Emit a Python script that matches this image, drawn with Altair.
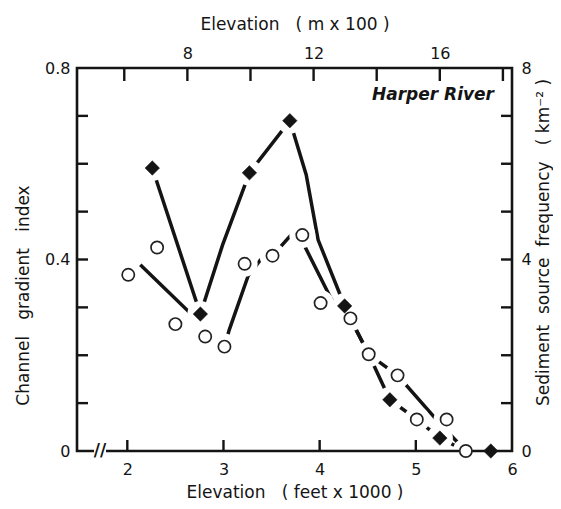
import altair as alt
import pandas as pd

# ---- data (elevation in feet x 1000, index 0-0.8) ----
diamond_elev = [2.26, 2.76, 3.27, 3.69, 4.26, 4.73, 5.25, 5.78]
diamond_val = [0.591, 0.286, 0.581, 0.690, 0.303, 0.107, 0.027, 0.0]

circle_elev = [2.01, 2.31, 2.50, 2.81, 3.01, 3.22, 3.51, 3.82, 4.01, 4.32, 4.51, 4.81, 5.01, 5.32, 5.52]
circle_val = [0.368, 0.425, 0.265, 0.239, 0.218, 0.391, 0.408, 0.451, 0.309, 0.277, 0.202, 0.158, 0.066, 0.066, 0.0]

# hand-drawn trend curves
curveA_elev = [2.26, 2.76, 2.99, 3.27, 3.69, 3.86, 3.984, 4.26, 4.32, 4.51, 4.73, 5.01, 5.25, 5.52, 5.78]
curveA_val = [0.591, 0.286, 0.430, 0.581, 0.690, 0.577, 0.441, 0.303, 0.277, 0.202, 0.107, 0.066, 0.027, 0.0, 0.0]

curveB_elev = [2.135, 2.675, 2.81, 3.01, 3.06, 3.257, 3.392, 3.51, 3.711, 3.815, 3.839, 4.127, 4.258, 4.317, 4.51, 4.81, 5.283, 5.52]
curveB_val = [0.389, 0.284, 0.239, 0.218, 0.253, 0.366, 0.401, 0.408, 0.453, 0.451, 0.430, 0.315, 0.303, 0.277, 0.202, 0.158, 0.050, 0.0]

# axes
bottom_ticks = [2, 3, 4, 5]
bottom_labels = [2, 3, 4, 5, 6]
left_ticks = [0.1, 0.2, 0.3, 0.4, 0.5, 0.6, 0.7]
left_labels = [0, 0.4, 0.8]
top_ticks = [6, 8, 10, 12, 14, 16, 18]
top_labels = [8, 12, 16]
right_ticks = [1, 2, 3, 4, 5, 6, 7]
right_labels = [0, 4, 8]

X0, X1 = 1.477, 6.0
FT_TO_M100 = 3.048

W, H = 435, 383
FONT = "DejaVu Sans"
INK = "#141414"
NB = "\u00a0"

xenc = alt.X(
    "elev:Q",
    scale=alt.Scale(domain=[X0, X1], nice=False, zero=False),
    axis=alt.Axis(
        orient="bottom", values=bottom_labels, format="d", ticks=False, domain=False, grid=False,
        labelPadding=10, labelFontSize=16, labelFont=FONT, labelColor=INK, labelFlush=False,
        title=f"Elevation{NB*3}({NB}feet{NB}x{NB}1000{NB})", titleFont=FONT, titleFontSize=17,
        titleFontWeight="normal", titleColor=INK, titleBaseline="alphabetic", titleY=46,
    ),
)
yenc = alt.Y(
    "val:Q",
    scale=alt.Scale(domain=[0, 0.8], nice=False),
    axis=alt.Axis(
        orient="left", values=left_labels, format=".1~f", ticks=False, domain=False, grid=False,
        labelPadding=7, labelFontSize=16, labelFont=FONT, labelColor=INK, labelFlush=False,
        title=f"Channel{NB*3}gradient{NB*3}index", titleFont=FONT, titleFontSize=17,
        titleFontWeight="normal", titleColor=INK, titleBaseline="alphabetic",
        titleAngle=270, titleX=-49, titleY=227, titleAlign="center",
    ),
)

curveA = pd.DataFrame({"elev": curveA_elev, "val": curveA_val})
curveB = pd.DataFrame({"elev": curveB_elev, "val": curveB_val})
dia = pd.DataFrame({"elev": diamond_elev, "val": diamond_val})
cir = pd.DataFrame({"elev": circle_elev, "val": circle_val})
allpts = pd.concat([dia, cir], ignore_index=True)
one = pd.DataFrame({"k": [0]})

lineA = alt.Chart(curveA).mark_line(strokeWidth=3.5, color=INK, strokeCap="butt").encode(x=xenc, y=yenc)
lineB = alt.Chart(curveB).mark_line(strokeWidth=3.5, color=INK, strokeCap="butt").encode(x=xenc, y=yenc)
halos = alt.Chart(allpts).mark_point(shape="circle", filled=True, fill="white", stroke="white",
                                     strokeWidth=0, fillOpacity=1, opacity=1, size=680).encode(
    x=xenc, y=yenc
)
frame = alt.Chart(one).mark_rect(fillOpacity=0, stroke=INK, strokeWidth=2.6).encode(
    x=alt.value(0), x2=alt.value(W), y=alt.value(0), y2=alt.value(H)
)
brk_gap = alt.Chart(one).mark_rule(color="white", strokeWidth=5).encode(
    x=alt.value(17), x2=alt.value(29), y=alt.value(H), y2=alt.value(H)
)
brk = alt.Chart(one).mark_text(text="//", font=FONT, fontSize=17, fontWeight="bold", color=INK,
                               align="center", baseline="middle").encode(
    x=alt.value(23), y=alt.value(H)
)
bt = alt.Chart(pd.DataFrame({"elev": bottom_ticks})).mark_rule(color=INK, strokeWidth=2.4).encode(
    x=xenc, y=alt.value(H), y2=alt.value(H - 11)
)
lt = alt.Chart(pd.DataFrame({"val": left_ticks})).mark_rule(color=INK, strokeWidth=2.4).encode(
    y=yenc, x=alt.value(0), x2=alt.value(11)
)
circles = alt.Chart(cir).mark_point(shape="circle", filled=True, fill="white", stroke="#222222",
                                    strokeWidth=1.7, fillOpacity=1, opacity=1, size=150).encode(x=xenc, y=yenc)
diamonds = alt.Chart(dia).mark_point(shape="diamond", filled=True, fill=INK, stroke=INK, strokeWidth=0.5,
                                     fillOpacity=1, opacity=1, size=210).encode(x=xenc, y=yenc)
label = alt.Chart(one).mark_text(text="Harper River", font=FONT, fontSize=17, fontWeight="bold",
                                 fontStyle="italic", color=INK, align="right", baseline="middle").encode(
    x=alt.value(W - 18), y=alt.value(27)
)

main = alt.layer(lineA, lineB, halos, frame, brk_gap, brk, bt, lt, circles, diamonds, label)

top = alt.Chart(pd.DataFrame({"m": top_ticks})).mark_rule(color=INK, strokeWidth=2.4).encode(
    x=alt.X(
        "m:Q",
        scale=alt.Scale(domain=[X0 * FT_TO_M100, X1 * FT_TO_M100], nice=False, zero=False),
        axis=alt.Axis(
            orient="top", values=top_labels, format="d", ticks=False, domain=False, grid=False,
            labelPadding=7, labelFontSize=16, labelFont=FONT, labelColor=INK, labelFlush=False,
            title=f"Elevation{NB*3}({NB}m{NB}x{NB}100{NB})", titleFont=FONT, titleFontSize=17,
            titleFontWeight="normal", titleColor=INK, titleBaseline="alphabetic", titleY=-39,
        ),
    ),
    y=alt.value(0), y2=alt.value(13),
)

right = alt.Chart(pd.DataFrame({"f": right_ticks})).mark_rule(color=INK, strokeWidth=2.4).encode(
    y=alt.Y(
        "f:Q",
        scale=alt.Scale(domain=[0, 8], nice=False),
        axis=alt.Axis(
            orient="right", values=right_labels, format="d", ticks=False, domain=False, grid=False,
            labelPadding=9, labelFontSize=16, labelFont=FONT, labelColor=INK, labelFlush=False,
            title=f"Sediment{NB*2}source{NB*2}frequency{NB*3}({NB}km\u207b\u00b2{NB})", titleFont=FONT,
            titleFontSize=17, titleFontWeight="normal", titleColor=INK, titleBaseline="alphabetic",
            titleAngle=270, titleX=36, titleY=174, titleAlign="center",
        ),
    ),
    x=alt.value(W), x2=alt.value(W - 11),
)

chart = (
    alt.layer(main, top, right)
    .resolve_scale(x="independent", y="independent")
    .properties(
        width=W, height=H,
        padding={"left": 69, "top": 60, "right": 41, "bottom": 50},
        autosize=alt.AutoSizeParams(type="none"),
        background="white",
    )
    .configure_view(stroke="transparent")
)

chart.save("out.html", embed_options={"renderer": "svg", "actions": False})
